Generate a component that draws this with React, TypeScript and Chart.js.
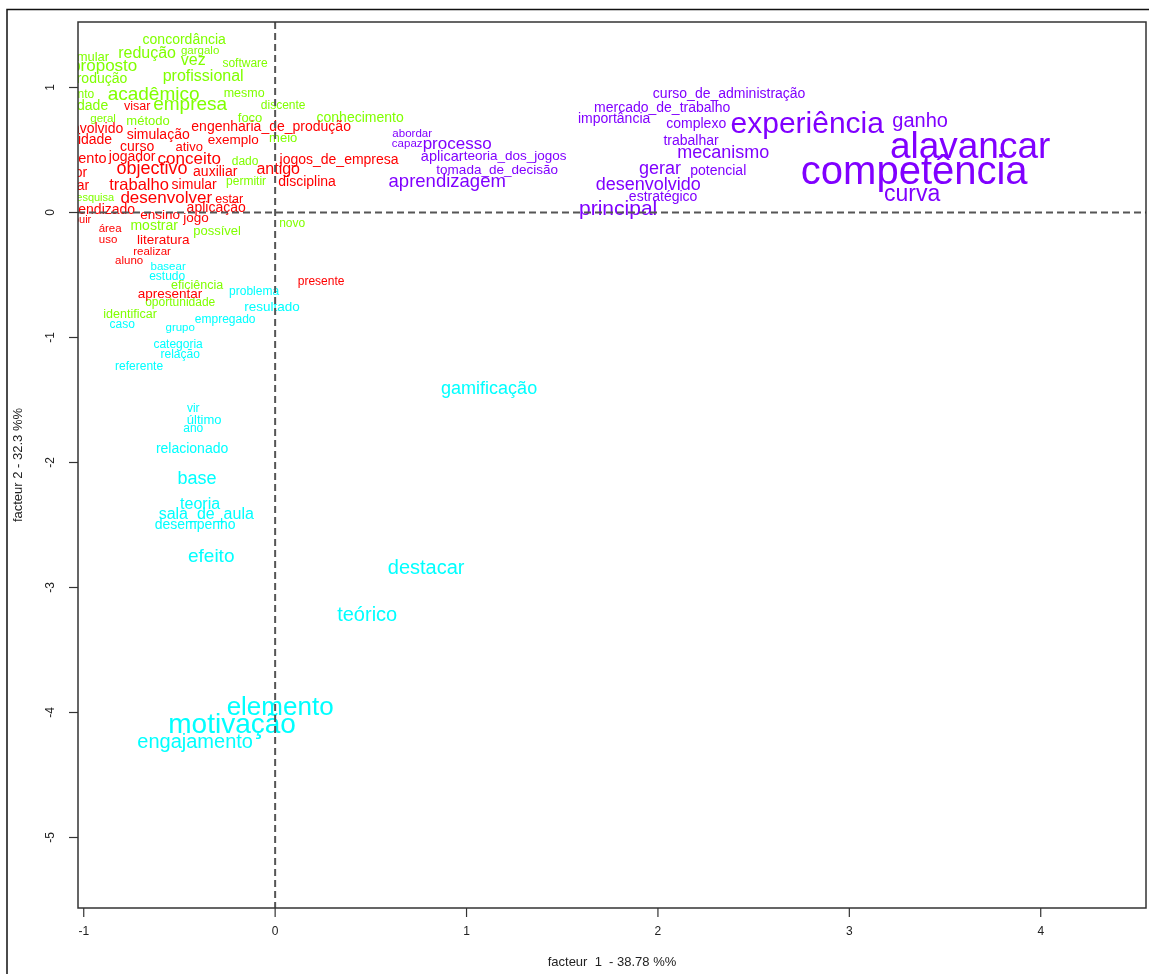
import React, { useEffect, useRef } from "react";
import { Chart, registerables } from "chart.js";

Chart.register(...registerables);

// ---- data (factor 1 / factor 2 coordinates, cex weight) ----
const greenWords = ["concordância", "estimular", "redução", "gargalo", "vez", "proposto", "software", "profissional", "produção", "pensamento", "acadêmico", "mesmo", "qualidade", "empresa", "discente", "geral", "método", "foco", "conhecimento", "meio", "dado", "permitir", "pesquisa", "mostrar", "possível", "novo", "eficiência", "oportunidade", "identificar"];
const greenX = [-0.475, -1.005, -0.669, -0.392, -0.428, -0.893, -0.157, -0.376, -0.925, -1.118, -0.635, -0.162, -1.031, -0.444, 0.042, -0.899, -0.664, -0.131, 0.444, 0.042, -0.157, -0.152, -0.956, -0.632, -0.303, 0.089, -0.408, -0.496, -0.758];
const greenY = [1.388, 1.252, 1.284, 1.3, 1.228, 1.18, 1.196, 1.1, 1.076, 0.948, 0.956, 0.956, 0.86, 0.876, 0.86, 0.756, 0.74, 0.764, 0.764, 0.604, 0.412, 0.252, 0.124, -0.1, -0.14, -0.084, -0.58, -0.716, -0.812];
const greenCex = [1.4, 1.3, 1.6, 1.15, 1.6, 1.7, 1.2, 1.6, 1.4, 1.2, 1.9, 1.25, 1.4, 1.9, 1.2, 1.15, 1.3, 1.3, 1.4, 1.3, 1.2, 1.2, 1.1, 1.4, 1.3, 1.2, 1.25, 1.2, 1.25];

const redWords = ["visar", "envolvido", "simulação", "engenharia_de_produção", "atividade", "exemplo", "curso", "ativo", "treinamento", "jogador", "conceito", "jogos_de_empresa", "objectivo", "auxiliar", "antigo", "professor", "disciplina", "trabalho", "simular", "jogar", "desenvolver", "estar", "aplicação", "aprendizado", "ensino", "jogo", "contribuir", "área", "uso", "literatura", "realizar", "aluno", "apresentar", "presente"];
const redX = [-0.721, -0.948, -0.611, -0.021, -0.998, -0.219, -0.721, -0.449, -1.081, -0.747, -0.449, 0.334, -0.643, -0.313, 0.016, -1.134, 0.167, -0.711, -0.423, -1.053, -0.569, -0.24, -0.308, -0.933, -0.601, -0.413, -1.079, -0.862, -0.873, -0.585, -0.643, -0.763, -0.549, 0.24];
const redY = [0.852, 0.676, 0.628, 0.692, 0.588, 0.588, 0.532, 0.532, 0.436, 0.452, 0.436, 0.428, 0.356, 0.332, 0.356, 0.324, 0.252, 0.228, 0.228, 0.22, 0.124, 0.108, 0.044, 0.028, -0.012, -0.036, -0.052, -0.124, -0.212, -0.212, -0.308, -0.38, -0.644, -0.548];
const redCex = [1.25, 1.4, 1.4, 1.4, 1.4, 1.35, 1.4, 1.3, 1.45, 1.4, 1.7, 1.4, 1.8, 1.4, 1.6, 1.4, 1.4, 1.65, 1.4, 1.4, 1.7, 1.25, 1.4, 1.4, 1.35, 1.35, 1.1, 1.15, 1.15, 1.35, 1.15, 1.15, 1.35, 1.2];

const cyanWords = ["basear", "estudo", "problema", "resultado", "caso", "empregado", "grupo", "categoria", "relação", "referente", "gamificação", "vir", "último", "ano", "relacionado", "base", "teoria", "sala_de_aula", "desempenho", "efeito", "destacar", "teórico", "elemento", "motivação", "engajamento"];
const cyanX = [-0.559, -0.564, -0.11, -0.016, -0.799, -0.261, -0.496, -0.507, -0.496, -0.711, 1.118, -0.428, -0.371, -0.428, -0.434, -0.408, -0.392, -0.36, -0.418, -0.334, 0.789, 0.481, 0.026, -0.225, -0.418];
const cyanY = [-0.428, -0.508, -0.628, -0.748, -0.892, -0.852, -0.916, -1.052, -1.132, -1.228, -1.404, -1.564, -1.652, -1.724, -1.884, -2.124, -2.324, -2.404, -2.492, -2.74, -2.836, -3.212, -3.948, -4.084, -4.228];
const cyanCex = [1.15, 1.2, 1.2, 1.35, 1.2, 1.2, 1.15, 1.2, 1.2, 1.2, 1.8, 1.2, 1.3, 1.2, 1.4, 1.8, 1.6, 1.6, 1.4, 1.9, 2.0, 2.0, 2.6, 2.8, 2.0];

const purpleWords = ["curso_de_administração", "mercado_de_trabalho", "importância", "complexo", "experiência", "ganho", "abordar", "capaz", "processo", "trabalhar", "alavancar", "aplicar", "teoria_dos_jogos", "mecanismo", "tomada_de_decisão", "gerar", "competência", "potencial", "aprendizagem", "desenvolvido", "estratégico", "curva", "principal"];
const purpleX = [2.372, 2.022, 1.771, 2.2, 2.78, 3.37, 0.716, 0.69, 0.951, 2.173, 3.631, 0.873, 1.254, 2.341, 1.16, 2.011, 3.339, 2.315, 0.899, 1.949, 2.027, 3.328, 1.792];
const purpleY = [0.956, 0.844, 0.756, 0.716, 0.724, 0.74, 0.636, 0.556, 0.556, 0.58, 0.54, 0.452, 0.46, 0.484, 0.348, 0.356, 0.34, 0.34, 0.26, 0.228, 0.132, 0.156, 0.036];
const purpleCex = [1.4, 1.4, 1.4, 1.4, 3.0, 2.0, 1.15, 1.15, 1.7, 1.4, 3.7, 1.45, 1.35, 1.8, 1.35, 1.8, 4.0, 1.4, 1.85, 1.8, 1.4, 2.3, 2.1];

const xTickLabels = ["-1", "0", "1", "2", "3", "4"];
const yTickLabels = ["-5", "-4", "-3", "-2", "-1", "0", "1"];
const xTitle = "facteur  1  - 38.78 %%";
const yTitle = "facteur 2 - 32.3 %%";

const FONT = '"Liberation Sans", Arial, sans-serif';
const BASE = 10;

function build(words: string[], xs: number[], ys: number[], cex: number[]) {
  return words.map((w, i) => ({ x: xs[i], y: ys[i], label: w, cex: cex[i] }));
}

const wordPlugin = {
  id: "wordLabels",
  afterDatasetsDraw(chart: any) {
    const { ctx, chartArea: a, scales } = chart;
    ctx.save();
    ctx.beginPath();
    ctx.rect(a.left, a.top, a.right - a.left, a.bottom - a.top);
    ctx.clip();
    ctx.textAlign = "center";
    ctx.textBaseline = "middle";
    chart.data.datasets.forEach((ds: any, i: number) => {
      const meta = chart.getDatasetMeta(i);
      meta.data.forEach((el: any, j: number) => {
        const d = ds.data[j];
        const size = d.cex * BASE;
        ctx.font = `${size.toFixed(1)}px ${FONT}`;
        ctx.fillStyle = ds.textColor;
        ctx.fillText(d.label, el.x, el.y + size * 0.08);
      });
    });
    // reference dashed lines at 0
    const x0 = scales.x.getPixelForValue(0);
    const y0 = scales.y.getPixelForValue(0);
    ctx.strokeStyle = "#555";
    ctx.lineWidth = 2;
    ctx.setLineDash([7, 4]);
    ctx.beginPath();
    ctx.moveTo(x0, a.top);
    ctx.lineTo(x0, a.bottom);
    ctx.moveTo(a.left, y0);
    ctx.lineTo(a.right, y0);
    ctx.stroke();
    ctx.restore();
  },
  afterDraw(chart: any) {
    const { ctx, chartArea: a, scales } = chart;
    ctx.save();
    // outer frame
    ctx.strokeStyle = "#111";
    ctx.lineWidth = 1.5;
    ctx.strokeRect(7, 9.5, 1200, 1200);
    // plot box
    ctx.strokeStyle = "#333";
    ctx.lineWidth = 1.5;
    ctx.strokeRect(a.left, a.top, a.right - a.left, a.bottom - a.top);
    // x ticks
    ctx.fillStyle = "#222";
    ctx.font = `12px ${FONT}`;
    ctx.textAlign = "center";
    ctx.textBaseline = "middle";
    ctx.lineWidth = 1.2;
    xTickLabels.forEach((t) => {
      const px = scales.x.getPixelForValue(Number(t));
      ctx.beginPath();
      ctx.moveTo(px, a.bottom);
      ctx.lineTo(px, a.bottom + 9);
      ctx.stroke();
      ctx.fillText(t, px, a.bottom + 24);
    });
    yTickLabels.forEach((t) => {
      const py = scales.y.getPixelForValue(Number(t));
      ctx.beginPath();
      ctx.moveTo(a.left, py);
      ctx.lineTo(a.left - 9, py);
      ctx.stroke();
      ctx.save();
      ctx.translate(a.left - 27, py);
      ctx.rotate(-Math.PI / 2);
      ctx.fillText(t, 0, 0);
      ctx.restore();
    });
    // titles
    ctx.font = `13px ${FONT}`;
    ctx.fillText(xTitle, (a.left + a.right) / 2, a.bottom + 54);
    ctx.save();
    ctx.translate(18, (a.top + a.bottom) / 2);
    ctx.rotate(-Math.PI / 2);
    ctx.fillText(yTitle, 0, 0);
    ctx.restore();
    ctx.restore();
  },
};

export default function App() {
  const ref = useRef<HTMLCanvasElement | null>(null);
  useEffect(() => {
    if (!ref.current) return;
    const mk = (words: string[], xs: number[], ys: number[], cex: number[], color: string) => ({
      label: color,
      data: build(words, xs, ys, cex),
      pointRadius: 0,
      pointHoverRadius: 0,
      showLine: false,
      textColor: color,
      backgroundColor: color,
      borderColor: color,
      clip: false,
    });
    const chart = new Chart(ref.current, {
      type: "scatter",
      data: {
        datasets: [
          mk(greenWords, greenX, greenY, greenCex, "#80FF00"),
          mk(redWords, redX, redY, redCex, "#FF0000"),
          mk(cyanWords, cyanX, cyanY, cyanCex, "#00FFFF"),
          mk(purpleWords, purpleX, purpleY, purpleCex, "#8000FF"),
        ] as any,
      },
      options: {
        responsive: false,
        animation: false,
        devicePixelRatio: 1,
        events: [],
        layout: { padding: { left: 78, top: 22, right: 3, bottom: 66 } },
        scales: {
          x: { type: "linear", min: -1.03, max: 4.55, display: false },
          y: { type: "linear", min: -5.564, max: 1.524, display: false },
        },
        plugins: { legend: { display: false }, tooltip: { enabled: false } },
      } as any,
      plugins: [wordPlugin],
    });
    return () => chart.destroy();
  }, []);
  return (
    <div style={{ position: "fixed", left: 0, top: 0, width: 1149, height: 974, background: "#fff" }}>
      <canvas ref={ref} width={1149} height={974} style={{ display: "block" }} />
    </div>
  );
}
